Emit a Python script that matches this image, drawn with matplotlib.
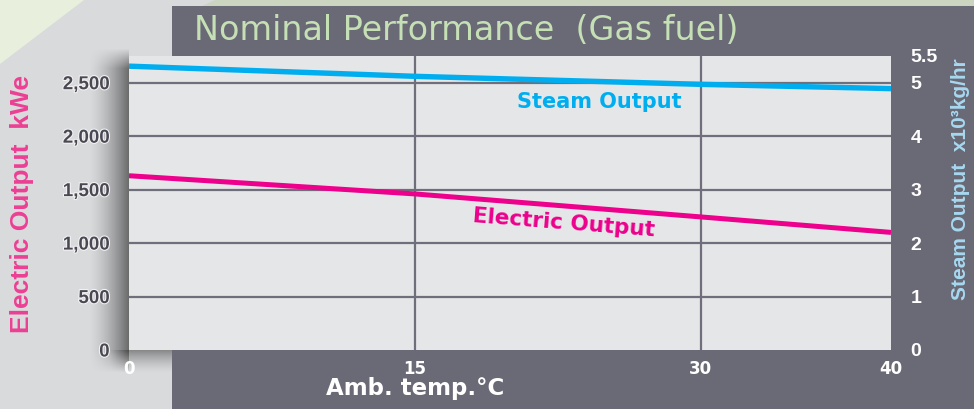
import numpy as np
import matplotlib.pyplot as plt
from matplotlib.patches import Polygon, Rectangle
import matplotlib.patheffects as pe

# values
temp = [0, 15, 30, 40]
electric_kwe = [1630, 1460, 1245, 1100]
steam_t = [5.31, 5.12, 4.97, 4.89]

x_ticks = [0, 15, 30, 40]
kwe_ticks = [0, 500, 1000, 1500, 2000, 2500]
kwe_labels = ['0', '500', '1,000', '1,500', '2,000', '2,500']
steam_ticks = [0, 1, 2, 3, 4, 5, 5.5]
steam_labels = ['0', '1', '2', '3', '4', '5', '5.5']

W, H = 974, 409
plt.rcParams['font.family'] = ['Liberation Sans', 'DejaVu Sans']
plt.rcParams['font.weight'] = 'bold'

fig = plt.figure(figsize=(W/100, H/100), dpi=100, facecolor='#d9dadc')

# background layer in pixel coords
bg = fig.add_axes([0, 0, 1, 1], zorder=0)
bg.set_xlim(0, W); bg.set_ylim(H, 0); bg.axis('off')
bg.add_patch(Polygon([[0, 0], [84, 0], [0, 64]], color='#e8f0dd', lw=0))
bg.add_patch(Polygon([[215, 0], [W, 0], [W, 7], [200, 7]], color='#cbd5c0', lw=0))
bg.add_patch(Rectangle((172, 6), W-172, H-6, color='#6a6976', lw=0))

# panel darkens just above the plot
g = np.linspace(0, 1, 50)[:, None, None]
top = np.array([0x6d, 0x6c, 0x79]) / 255
low = np.array([0x5e, 0x5d, 0x69]) / 255
grad = top*(1-g) + low*g
bg.imshow(np.repeat(grad, 2, axis=1), extent=(172, W, 56, 6), aspect='auto')

# drop shadow left of the plot
xs = np.linspace(0, 1, 40)
ys = np.arange(48, 372)
fy = np.clip((ys-48)/20, 0, 1) * np.clip((372-ys)/22, 0, 1)
sh = np.zeros((len(ys), len(xs), 4))
sh[..., :3] = 0.2
sh[..., 3] = 0.66 * (xs**1.5)[None, :] * fy[:, None]
bg.imshow(sh, extent=(88, 129, 372, 48), aspect='auto')

# drop shadow under the plot
xb = np.arange(110, 892)
yb = np.linspace(1, 0, 24)
fx = np.clip((xb-110)/20, 0, 1) * np.clip((892-xb)/90, 0, 1)
sb = np.zeros((len(yb), len(xb), 4))
sb[..., :3] = 0.15
sb[..., 3] = 0.45 * (yb**1.5)[:, None] * fx[None, :]
bg.imshow(sb, extent=(110, 892, 374, 350), aspect='auto')

ax = fig.add_axes([129/W, 1-350/H, 762/W, 294/H], zorder=1)
ax.set_facecolor('#e5e6e8')
ax.set_xlim(0, 40)
ax.set_ylim(0, 2750)
for s in ax.spines.values():
    s.set_visible(False)
for v in kwe_ticks[1:]:
    ax.axhline(v, color='#6f6e7b', lw=1.6, zorder=1)
for t in x_ticks[1:-1]:
    ax.axvline(t, color='#6f6e7b', lw=1.6, zorder=1)

ax.plot(temp, electric_kwe, color='#ec008c', lw=3.6, solid_capstyle='butt', zorder=3)
ax.set_xticks(x_ticks)
ax.set_xticklabels([str(t) for t in x_ticks], family='DejaVu Sans')
ax.set_yticks(kwe_ticks)
ax.set_yticklabels(kwe_labels)
ax.tick_params(axis='y', length=0, pad=14, labelsize=13.5, labelcolor='#4a4953')
ax.tick_params(axis='x', length=0, pad=7, labelsize=12, labelcolor='white')
for lb in ax.get_yticklabels():
    lb.set_path_effects([pe.withStroke(linewidth=1.5, foreground='#f4f4f4')])

ax2 = ax.twinx()
ax2.set_zorder(2)
ax2.set_ylim(0, 5.5)
for s in ax2.spines.values():
    s.set_visible(False)
ax2.plot(temp, steam_t, color='#00aeef', lw=3.9, solid_capstyle='butt')
ax2.set_yticks(steam_ticks)
ax2.set_yticklabels(steam_labels)
ax2.tick_params(length=0, pad=14, labelsize=14, labelcolor='white')

ax.text(24.7, 2320, 'Steam Output', color='#00aeef', fontsize=15,
        family='DejaVu Sans', ha='center', va='center', zorder=4)
ax.text(22.8, 1188, 'Electric Output', color='#ec008c', fontsize=15.5,
        family='DejaVu Sans', ha='center', va='center', rotation=-4.5, zorder=4)

fig.text(194/W, 1-31/H, 'Nominal Performance  (Gas fuel)', color='#c6e0b5',
         fontsize=24, fontweight='normal', family='DejaVu Sans', va='center')
fig.text(22/W, 1-204/H, 'Electric Output  kWe', rotation=90, color='#ec3f93',
         fontsize=19, ha='center', va='center')
fig.text(961/W, 1-179/H, 'Steam Output  x10³kg/hr', rotation=90, color='#a6d8f0',
         fontsize=15, ha='center', va='center')
fig.text(415/W, 1-388/H, 'Amb. temp.°C', color='white', fontsize=16.5,
         family='DejaVu Sans', ha='center', va='center')

fig.savefig('out.png', dpi=100, facecolor=fig.get_facecolor())
